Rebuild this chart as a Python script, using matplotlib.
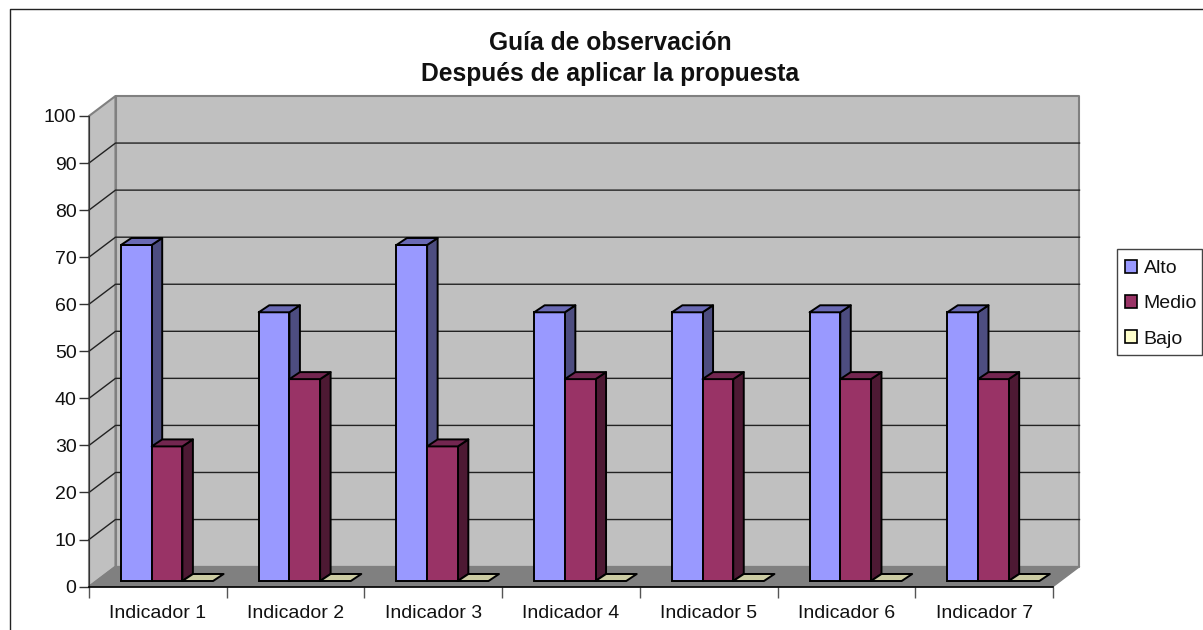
import matplotlib
matplotlib.use("Agg")
import matplotlib.pyplot as plt
from matplotlib.patches import Patch, Polygon, Rectangle

plt.rcParams['font.family'] = ['Liberation Sans', 'DejaVu Sans']

# Datos
indicadores = ['Indicador 1', 'Indicador 2', 'Indicador 3', 'Indicador 4',
               'Indicador 5', 'Indicador 6', 'Indicador 7']
alto = [71.4, 57.1, 71.4, 57.1, 57.1, 57.1, 57.1]
medio = [28.6, 42.9, 28.6, 42.9, 42.9, 42.9, 42.9]
bajo = [0, 0, 0, 0, 0, 0, 0]
series = ['Alto', 'Medio', 'Bajo']
marcas_y = list(range(0, 101, 10))

# (frente, lado, tapa)
colores = [('#9999ff', '#4d4d80', '#6a6ab4'),
           ('#993366', '#4d1933', '#732650'),
           ('#ffffcc', '#808066', '#cccca3')]

W, H = 1203, 630
fig = plt.figure(figsize=(W / 100, H / 100), dpi=100, facecolor='white')

# Recuadro del grafico (solo arriba y a la izquierda se ve)
fig.add_artist(plt.Line2D([9.5 / W, 9.5 / W, 1], [0, 1 - 9 / H, 1 - 9 / H],
                          color='#222222', lw=1.0))

x0, x1, y_sup, y_inf = 89, 1053, 116, 586.6
ax = fig.add_axes([x0 / W, 1 - y_inf / H, (x1 - x0) / W, (y_inf - y_sup) / H])
ax.set_xlim(0, 7)
ax.set_ylim(0, 100)
ax.patch.set_visible(False)

px_x = (x1 - x0) / 7
px_y = (y_inf - y_sup) / 100
fx = 26.5 / px_x   # profundidad de las paredes
fy = 20 / px_y


def poligono(puntos, color, borde, lw=1.0, z=1):
    ax.add_patch(Polygon(puntos, closed=True, facecolor=color, edgecolor=borde,
                         lw=lw, zorder=z, clip_on=False, joinstyle='round'))


# Paredes y piso
poligono([(0, 0), (fx, fy), (fx, 100 + fy), (0, 100)], '#c0c0c0', '#808080', 1.5)
poligono([(fx, fy), (7 + fx, fy), (7 + fx, 100 + fy), (fx, 100 + fy)], '#c0c0c0', '#808080', 1.5)
poligono([(0, 0), (7, 0), (7 + fx, fy), (fx, fy)], '#808080', '#808080', 1.0)

for v in marcas_y[1:-1]:
    ax.plot([0, fx, 7 + fx], [v, v + fy, v + fy], color='#222222', lw=1.0,
            zorder=1.5, clip_on=False)

# Barras 3D
ancho = 30.7 / px_x
margen = 32 / px_x
prof_x = 10.5 / px_x
prof_y = 7 / px_y
base = 5.6 / px_y

for i in range(len(indicadores)):
    for j, valores in enumerate([alto, medio, bajo]):
        v = valores[i]
        izq = i + margen + j * ancho
        der = izq + ancho
        abajo = base
        arriba = base + v
        frente, lado, tapa = colores[j]
        z = 3 + i + j * 0.1
        if v > 0:
            poligono([(der, abajo), (der + prof_x, abajo + prof_y),
                      (der + prof_x, arriba + prof_y), (der, arriba)], lado, 'black', 1.4, z)
            ax.add_patch(Rectangle((izq, abajo), ancho, v, facecolor=frente,
                                   edgecolor='black', lw=1.4, zorder=z, clip_on=False))
        poligono([(izq, arriba), (der, arriba), (der + prof_x, arriba + prof_y),
                  (izq + prof_x, arriba + prof_y)], tapa, 'black', 1.4, z)

# Ejes
for lado_eje in ['top', 'right']:
    ax.spines[lado_eje].set_visible(False)
ax.spines['left'].set_color('#333333')
ax.spines['bottom'].set_color('black')
ax.spines['bottom'].set_linewidth(1.2)
ax.spines['left'].set_zorder(2)
ax.spines['bottom'].set_zorder(2)
ax.set_yticks(marcas_y)
ax.set_xticks(range(8))
ax.set_xticklabels([])
ax.set_xticks([i + 0.5 for i in range(7)], minor=True)
ax.set_xticklabels(indicadores, minor=True)
ax.tick_params(axis='y', length=7, width=1, color='#333333', labelsize=14,
               pad=2, labelcolor='#111111')
ax.tick_params(axis='x', which='major', length=8, width=1, color='#555555')
ax.tick_params(axis='x', which='minor', length=0, labelsize=14, pad=13,
               labelcolor='#111111')

# Titulo
fig.text(610 / W, 1 - 50 / H, 'Guía de observación', ha='center', va='baseline',
         fontsize=17.7, fontweight='bold', color='#111111')
fig.text(610 / W, 1 - 81 / H, 'Después de aplicar la propuesta', ha='center', va='baseline',
         fontsize=17.7, fontweight='bold', color='#111111')

# Leyenda: el marco va aparte para que calce con la imagen
fig.add_artist(Rectangle((1117 / W, 1 - 354.7 / H), 84.7 / W, 106 / H, transform=fig.transFigure,
                         facecolor='white', edgecolor='#444444', lw=1.0))
handles = [Patch(facecolor=colores[k][0], edgecolor='black', lw=1.2, label=series[k])
           for k in range(3)]
leg = fig.legend(handles=handles, loc='upper left',
                 bbox_to_anchor=(1124.5 / W, 1 - 260 / H), fontsize=14,
                 frameon=False,
                 handlelength=0.62, handleheight=0.62, handletextpad=0.36,
                 labelspacing=0.93, borderpad=0, borderaxespad=0,
                 labelcolor='#111111')

fig.savefig('out.png', dpi=100)
